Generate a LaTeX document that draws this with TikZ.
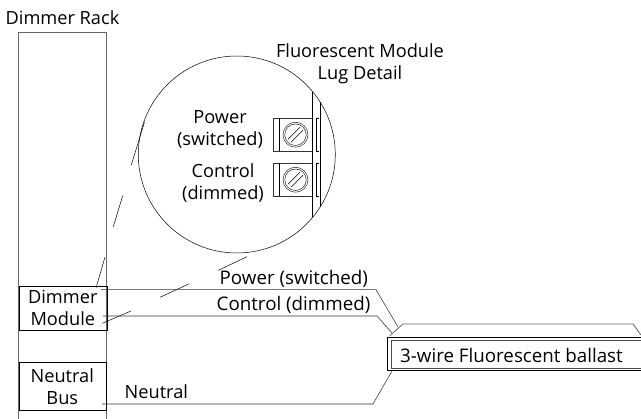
\documentclass[tikz,border=0pt]{standalone}
\usepackage{fontspec}
\setmainfont{Open Sans}
\usetikzlibrary{calc}
\begin{document}
\begin{tikzpicture}[x=1pt,y=-1pt,
  lbl/.style={font=\fontsize{18.2}{22}\selectfont,inner sep=0pt,align=center,text=black},
  wlbl/.style={font=\fontsize{18.75}{22}\selectfont,inner sep=0pt,anchor=west,text=black},
  wire/.style={line width=0.55pt,draw=black!80},
  zoomline/.style={line width=0.5pt,draw=black},
  hline/.style={line width=0.8pt,draw=black!60}]
\useasboundingbox (0,0) rectangle (641,419);
% rack
\coordinate (r1) at (18.5,419); \coordinate (r2) at (18.5,32); \coordinate (r3) at (106,32); \coordinate (r4) at (106,419);
\draw[hline] (r1) -- (r2) -- (r3) -- (r4);
\node[lbl] (rack) at (62.5,17.5) {Dimmer Rack};
\node[draw=black,line width=0.6pt,minimum width=88pt,minimum height=44pt,lbl,inner sep=0pt,anchor=north west] (dm) at (18.5,286) {Dimmer\\Module};
\node[draw=black,line width=0.6pt,minimum width=87pt,minimum height=48pt,lbl,inner sep=0pt,anchor=north west] (nb) at (18.5,362) {Neutral\\Bus};
% detail circle
\node[draw=black,line width=0.5pt,circle,minimum size=197pt,inner sep=0pt] (det) at (236.8,154.5) {};
\node[lbl] (dett) at (360,63.5) {Fluorescent Module\\Lug Detail};
% lugs
\draw[line width=0.8pt] (312.5,92) -- (312.5,217);
\draw[line width=0.5pt] (320,102) -- (320,207);
\node[lbl] (pw) at (220,129.5) {Power\\(switched)};
\node[lbl] (ct) at (223,183) {Control\\(dimmed)};
\foreach \n/\y in {a/118.5,b/163.5}{
  \draw[line width=0.5pt,draw=black!80] (312,\y) -- (273,\y) -- (273,\y+32.5) -- (312,\y+32.5);
  \draw[line width=0.5pt] (279.5,\y) -- (279.5,\y+32.5);
  \draw[line width=0.5pt] (319,\y) -- (316,\y) -- (316,\y+32.5) -- (319,\y+32.5);
  \node[draw=black,line width=0.4pt,circle,minimum size=25pt,inner sep=0pt] (s\n) at (295.5,\y+16.25) {};
  \node[draw=black,line width=0.4pt,circle,minimum size=21.5pt,inner sep=0pt] (t\n) at (295.5,\y+16.25) {};
  \draw[line width=0.45pt] ($(s\n)+(-7.5,4.5)$) -- ($(s\n)+(4.5,-7.5)$);
  \draw[line width=0.45pt] ($(s\n)+(-4.5,7.5)$) -- ($(s\n)+(7.5,-4.5)$);
}
% zoom guide lines
\coordinate (u0) at (96,288); \coordinate (u1) at (105,257);
\coordinate (u2) at (113.3,226.7); \coordinate (u3) at (122.7,195.7);
\coordinate (u4) at (131.3,165); \coordinate (u5) at (144.5,122);
\draw[zoomline] (u0)--(u1) (u2)--(u3) (u4)--(u5);
\coordinate (l0) at (102.3,323.3); \coordinate (l1) at (131,311);
\coordinate (l2) at (160,297.3); \coordinate (l3) at (189.3,283.7);
\coordinate (l4) at (218.3,270.3); \coordinate (l5) at (247,256.7);
\draw[zoomline] (l0)--(l1) (l2)--(l3) (l4)--(l5);
% ballast
\coordinate (b0) at (641,337); \coordinate (b1) at (387.5,337); \coordinate (b2) at (387.5,370); \coordinate (b3) at (641,370);
\draw[line width=0.7pt] (b0)--(b1)--(b2)--(b3);
\coordinate (c0) at (641,340); \coordinate (c1) at (391,340); \coordinate (c2) at (391,368); \coordinate (c3) at (641,368);
\draw[line width=0.4pt,draw=black!70] (c0)--(c1)--(c2)--(c3);
\coordinate (d0) at (390,335.5); \coordinate (d1) at (403,324); \coordinate (d2) at (633,324); \coordinate (d3) at (641,335);
\draw[line width=0.8pt,draw=black!60] (d0)--(d1)--(d2)--(d3);
\node[wlbl] (bt) at (400,355) {3-wire Fluorescent ballast};
% wires
\coordinate (p0) at (101,289.7); \coordinate (p1) at (376,289.7); \coordinate (p2) at (398,327);
\draw[wire] (p0)--(p1)--(p2);
\coordinate (q0) at (103,316); \coordinate (q1) at (377,316); \coordinate (q2) at (392,333);
\draw[wire] (q0)--(q1)--(q2);
\coordinate (n0) at (102,404); \coordinate (n1) at (373,404); \coordinate (n2) at (392,371);
\draw[wire] (n0)--(n1)--(n2);
\node[wlbl] (pl) at (219.5,278.5) {Power (switched)};
\node[wlbl] (cl) at (216.5,305) {Control (dimmed)};
\node[lbl,anchor=west] (nl) at (124.5,392) {Neutral};
\end{tikzpicture}
\end{document}
